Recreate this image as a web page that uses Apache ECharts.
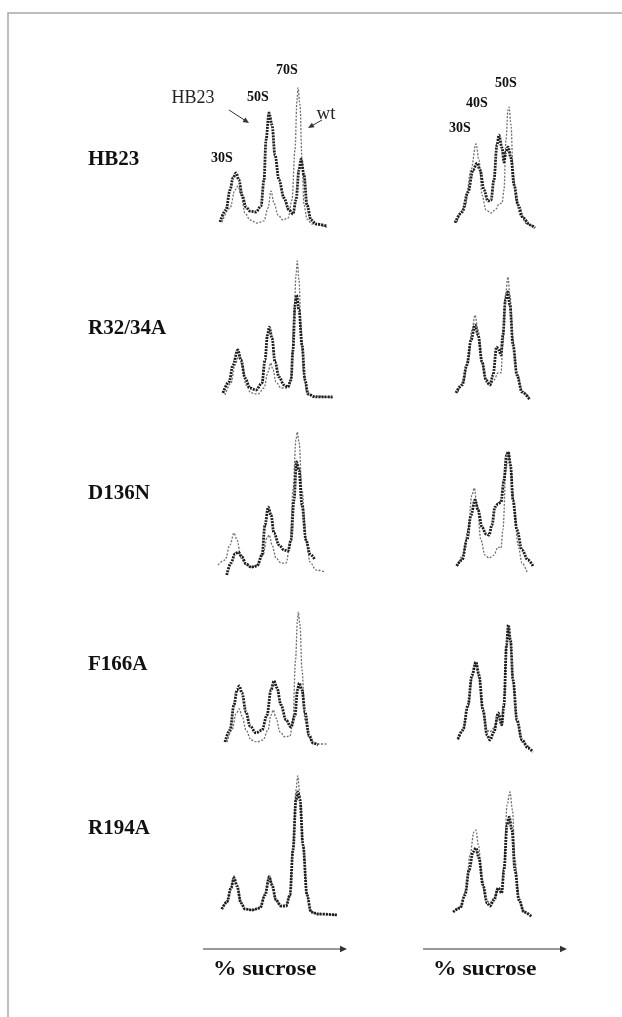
<!DOCTYPE html>
<html><head><meta charset="utf-8">
<script src="https://cdn.jsdelivr.net/npm/echarts@6/dist/echarts.min.js"></script>
<style>html,body{margin:0;padding:0;background:#fff}#c{width:622px;height:1017px}</style>
</head><body><div id="c"></div><script>
// Row labels (mutants) and axis title
const rowLabels = ['HB23', 'R32/34A', 'D136N', 'F166A', 'R194A'];
const axisTitle = '% sucrose';

// x = fraction (0-50), y = A260 (arbitrary units, 0-100)
// Row 1: HB23
const hb23LeftMut = [[2,3.75],[4.4,11.25],[6,23.75],[7.2,31.25],[8.4,34.4],[9.6,30],[10.8,20.6],[12.4,13.1],[14,10.6],[16.4,10],[18.4,13.75],[19.6,30],[20.4,55],[21.6,71.9],[22.8,64.4],[24,45.6],[25.6,30],[27.6,18.75],[29.6,11.25],[31.2,8.75],[32.4,17.5],[33.6,36.25],[34.4,43.1],[35.6,33.1],[36.8,14.4],[38.4,5],[40.4,2.5],[44.8,1.25]];
const hb23LeftWt = [[2.8,3.75],[6,12.5],[8,23.75],[9.2,26.25],[10.4,20.6],[12,9.4],[14,5],[16.8,3.1],[19.6,4.4],[21.2,12.5],[22.4,23.1],[23.6,15.6],[25.2,8.1],[27.2,5],[29.2,6.25],[30.8,17.5],[32,48.75],[32.8,80],[33.2,87.5],[34,76.9],[34.8,42.5],[35.6,14.4],[36.8,5.6],[38.8,2.5],[44.8,0.6]];
const hb23RightMut = [[2.8,3.3],[6.7,10],[10,22.5],[12.8,36.25],[15,40.6],[16.7,36.25],[18.9,23.75],[21.1,16.9],[22.8,17.5],[24.4,30],[26.1,51.9],[27.2,58.1],[28.9,50],[30,41.25],[31.1,47.5],[32.2,50.6],[33.9,43.75],[35.6,26.9],[37.8,14.4],[40.6,6.25],[44.4,1.9],[47.2,0]];
const hb23RightWt = [[3.9,3.75],[8.3,13.1],[11.7,36.25],[14.4,52.5],[16.1,42.5],[17.8,20.6],[20,11.25],[22.8,9.4],[25.6,11.9],[27.2,15],[28.9,15.6],[30,23.75],[31.1,55],[32.2,73.75],[32.8,75.6],[33.9,64.4],[35,36.25],[36.7,17.5],[38.9,8.1],[42.8,2.5],[47.2,0.6]];
// Row 2: R32/34A
const r32LeftMut = [[3.2,4.4],[5.6,11.25],[7.2,21.9],[9.1,31.25],[10.4,25],[12,13.75],[14,7.5],[16.4,6.25],[18.8,10.6],[20,25],[21,40.6],[21.7,45.6],[22.8,38.75],[24,23.75],[25.6,14.4],[27.6,9.4],[29.2,8.1],[30.4,12.5],[31.2,31.25],[32,59.4],[32.6,65.6],[33.6,56.25],[34.8,34.4],[36,12.5],[37.2,3.75],[40,1.9],[47.2,1.9]];
const r32LeftWt = [[4,3.1],[6.4,10.6],[8,21.9],[9.6,28.1],[10.8,21.9],[12.4,9.4],[14.4,4.4],[17.2,3.75],[19.6,7.5],[21.2,17.5],[22.3,23.1],[23.2,18.75],[24.4,11.25],[26.4,7.5],[28.8,7.5],[30.4,12.5],[31.6,50],[32.4,78.1],[32.9,86.9],[33.6,75],[34.4,43.75],[35.6,15.6],[36.8,5],[38.8,2.5],[47.2,1.25]];
const r32RightMut = [[3.3,4.4],[6.7,9.4],[9.4,21.9],[11.7,37.5],[13.9,46.9],[15.6,40.6],[17.8,23.75],[20,12.5],[22.2,9.4],[23.9,15.6],[25.9,33.1],[27.2,31.25],[28.3,28.1],[29.4,40.6],[30.8,62.5],[32.1,67.5],[33.3,59.4],[35,34.4],[37.2,15.6],[40,5],[44.4,0]];
const r32RightWt = [[4.4,5],[7.2,10.6],[10,25],[12.2,43.75],[13.9,53.1],[15.6,43.75],[17.8,23.75],[20,11.25],[22.2,8.75],[24.4,12.5],[26.7,16.9],[28.3,16.9],[29.4,34.4],[30.8,65.6],[32.2,76.9],[33.3,65.6],[35,37.5],[37.2,16.9],[40,5.6],[44.4,0.6]];
// Row 3: D136N
const d136LeftMut = [[4.7,0.6],[6.4,8.1],[8,13.75],[9.3,15],[10.8,11.9],[12.4,7.5],[14.4,5.6],[16.8,6.25],[18.8,13.1],[20,31.9],[21.3,43.1],[22.4,38.1],[23.6,26.9],[25.6,19.4],[27.6,16.25],[29.2,15.6],[30.4,22.5],[31.6,47.5],[32.6,71.25],[33.6,66.25],[34.8,44.4],[36.4,22.5],[38,13.75],[40,10]];
const d136LeftWt = [[1.2,6.9],[4,10],[6,19.4],[7.6,26.9],[8.8,22.5],[10.4,11.25],[12.4,6.9],[14.8,5.6],[17.2,6.9],[19.2,13.1],[20.8,23.75],[21.7,25.6],[22.8,19.4],[24.4,11.25],[26.4,8.1],[28.4,8.1],[30,19.4],[31.2,53.75],[32.4,85],[32.9,90],[33.6,83.75],[34.8,53.75],[36.4,22.5],[38,8.75],[40.4,3.75],[44,2.5]];
const d136RightMut = [[3.7,6.25],[6.7,10],[9.4,22.5],[11.7,38.1],[13.9,47.5],[15.6,41.25],[17.8,30.6],[20,26.25],[21.7,25.6],[23.3,31.9],[25,43.1],[26.7,45],[28.3,46.25],[30,60],[31.4,75.6],[32.4,77.5],[33.6,69.4],[35,47.5],[37.2,28.75],[40,16.25],[43.3,10],[46.1,6.25]];
const d136RightWt = [[4.4,6.9],[7.2,13.1],[10,28.75],[12.2,50.6],[13.5,55],[15,44.4],[17.2,22.5],[19.4,13.1],[21.7,11.25],[24.4,13.1],[26.7,18.1],[28.3,17.5],[29.4,28.75],[31.1,66.25],[32.4,77.5],[33.9,66.25],[35.6,41.25],[37.8,19.4],[40,8.1],[42.8,2.5]];
// Row 4: F166A
const f166LeftMut = [[4,3.75],[6,11.25],[7.6,26.9],[8.8,36.25],[9.7,38.75],[10.8,34.4],[12.4,22.5],[14,13.75],[16.4,9.4],[18.8,11.25],[20.8,20.6],[22.4,36.25],[23.6,41.9],[24.8,37.5],[26.4,26.9],[28.4,17.5],[30.4,13.1],[32,20.6],[33,36.25],[33.7,40.6],[34.8,36.25],[36,22.5],[37.6,8.1],[39.2,3.1],[41.2,1.9]];
const f166LeftWt = [[4.8,3.75],[6.8,11.25],[8.4,21.25],[9.7,24.4],[10.8,20],[12.4,11.25],[14.4,5],[16.8,3.75],[19.2,5],[21.2,11.25],[22.4,20.6],[23.3,23.75],[24.4,18.75],[26,10],[28,6.9],[30,7.5],[31.2,17.5],[32.2,55],[33,80],[33.3,85],[34,76.9],[34.8,48.75],[36,17.5],[37.6,6.25],[40,2.5],[45.2,2.5]];
const f166RightMut = [[4.4,5.6],[7.2,11.25],[10,26.9],[12.2,45.6],[14.4,53.75],[16.1,45.6],[18.3,23.75],[20.6,8.1],[22.2,5],[24.4,10],[26.8,21.9],[28.7,14.4],[30,26.9],[31.4,64.4],[32.4,76.9],[33.6,67.5],[35,42.5],[37.2,17.5],[40,5],[43.3,0],[46.1,-2.5]];
const f166RightWt = [[4.4,5],[7.2,10.6],[10,25],[12.2,43.75],[14.4,52.5],[16.1,43.75],[18.3,22.5],[20.6,11.25],[22.2,10],[24.4,12.5],[26.7,18.75],[28.6,16.25],[30,30],[31.4,64.4],[32.4,75],[33.6,66.25],[35,41.25],[37.2,16.25],[40,3.75],[44.4,0]];
// Row 5: R194A
const r194LeftMut = [[2.7,5.6],[4.8,10],[6.4,18.75],[7.6,25],[8.8,20],[10.4,9.4],[12,5.6],[14.8,5],[18,6.25],[20,14.4],[21.7,25.6],[22.8,20.6],[24.4,11.25],[26.4,7.5],[28.4,7.5],[30,14.4],[31.2,42.5],[32.4,73.75],[33.1,78.75],[34,73.75],[35.2,45.6],[36.8,14.4],[38.4,3.75],[41.2,2.5],[48.8,1.9]];
const r194LeftWt = [[2.8,5.6],[4.8,10.6],[6.4,19.4],[7.6,26.25],[8.8,20.6],[10.4,9.4],[12,5.6],[14.8,5],[18,6.25],[20,15],[21.7,26.9],[22.8,21.25],[24.4,11.25],[26.4,7.5],[28.4,7.5],[30,14.4],[31.2,45.6],[32.4,80],[33.1,88.75],[34,76.9],[35.2,45.6],[36.8,14.4],[38.4,3.75],[41.2,2.5],[48.8,1.9]];
const r194RightMut = [[1.7,3.75],[5.6,6.25],[8.3,14.4],[10.6,30],[12.8,41.25],[14.4,43.75],[16.1,37.5],[18.3,20.6],[20.6,9.4],[22.2,7.5],[24.4,11.25],[26.8,18.75],[28.7,15.6],[30,30],[31.7,58.1],[32.9,63.1],[34.4,55],[36.1,30],[38.3,11.25],[41.1,3.75],[45.6,0.6]];
const r194RightWt = [[2.2,3.75],[6.1,6.9],[8.9,17.5],[11.1,39.4],[13.3,53.75],[14.4,55],[15.8,45.6],[17.8,23.75],[20,11.25],[22.2,9.4],[24.4,12.5],[26.7,17.5],[28.6,16.25],[30,33.1],[31.7,70.6],[33.3,78.75],[34.7,67.5],[36.1,36.25],[38.3,12.5],[41.1,3.75],[45.6,0.6]];

const panels = [
  [[hb23LeftMut, hb23LeftWt], [hb23RightMut, hb23RightWt]],
  [[r32LeftMut, r32LeftWt], [r32RightMut, r32RightWt]],
  [[d136LeftMut, d136LeftWt], [d136RightMut, d136RightWt]],
  [[f166LeftMut, f166LeftWt], [f166RightMut, f166RightWt]],
  [[r194LeftMut, r194LeftWt], [r194RightMut, r194RightWt]]
];

// Layout
const rowBottoms = [228, 400, 576, 748, 918];
const colLeft = [215, 450], colWidth = [125, 90];
const labelY = [160, 329, 494, 665, 829];

const grids = [], xAxes = [], yAxes = [], series = [];
panels.forEach((row, r) => {
  row.forEach((pair, c) => {
    const gi = grids.length;
    grids.push({ left: colLeft[c], width: colWidth[c], top: rowBottoms[r] - 160, height: 176 });
    xAxes.push({ gridIndex: gi, type: 'value', min: 0, max: 50, show: false });
    yAxes.push({ gridIndex: gi, type: 'value', min: -10, max: 100, show: false });
    series.push({ type: 'line', xAxisIndex: gi, yAxisIndex: gi, data: pair[1], smooth: 0.35, smoothMonotone: 'x', symbol: 'none',
      lineStyle: { color: '#707070', width: 1.3, type: [2, 1.5] }, z: 2 });
    series.push({ type: 'line', xAxisIndex: gi, yAxisIndex: gi, data: pair[0], smooth: 0.35, smoothMonotone: 'x', symbol: 'none',
      lineStyle: { color: '#1e1e1e', width: 2.8, type: [2, 1] }, z: 3 });
  });
});

const serifB = (s) => 'bold ' + s + 'px "Liberation Serif", "Times New Roman", serif';
const serif = (s) => s + 'px "Liberation Serif", "Times New Roman", serif';
const graphic = [];
graphic.push({ type: 'rect', shape: { x: 8, y: 13, width: 800, height: 1200 }, style: { fill: 'none', stroke: '#a8a8a8', lineWidth: 1.5 }, silent: true });
rowLabels.forEach((t, i) => graphic.push({ type: 'text', x: 88, y: labelY[i], style: { text: t, font: serifB(21), fill: '#111', textVerticalAlign: 'middle' } }));
const peakLabels = [['30S', 222, 158], ['50S', 258, 97], ['70S', 287, 70], ['30S', 460, 128], ['40S', 477, 103], ['50S', 506, 83]];
peakLabels.forEach(p => graphic.push({ type: 'text', x: p[1], y: p[2], style: { text: p[0], font: serifB(14), fill: '#111', textAlign: 'center', textVerticalAlign: 'middle' } }));
graphic.push({ type: 'text', x: 193, y: 98, style: { text: 'HB23', font: serif(18), fill: '#222', textAlign: 'center', textVerticalAlign: 'middle' } });
graphic.push({ type: 'text', x: 326, y: 114, style: { text: 'wt', font: serif(19), fill: '#222', textAlign: 'center', textVerticalAlign: 'middle' } });
function arrow(x1, y1, x2, y2, head) {
  const a = Math.atan2(y2 - y1, x2 - x1), h = head, w = head * 0.45;
  graphic.push({ type: 'line', shape: { x1, y1, x2: x2 - Math.cos(a) * h * 0.6, y2: y2 - Math.sin(a) * h * 0.6 }, style: { stroke: '#333', lineWidth: 1 } });
  graphic.push({ type: 'polygon', shape: { points: [[x2, y2], [x2 - Math.cos(a) * h - Math.sin(a) * w, y2 - Math.sin(a) * h + Math.cos(a) * w], [x2 - Math.cos(a) * h + Math.sin(a) * w, y2 - Math.sin(a) * h - Math.cos(a) * w]] }, style: { fill: '#333' } });
}
arrow(229, 110, 249, 123, 6);
arrow(322, 120, 308, 128, 6);
arrow(203, 949, 347, 949, 7);
arrow(423, 949, 567, 949, 7);
graphic.push({ type: 'text', x: 213, y: 970, scaleX: 1.12, originX: 0, originY: 0, style: { text: axisTitle, font: serifB(21), fill: '#111', textVerticalAlign: 'middle' } });
graphic.push({ type: 'text', x: 433, y: 970, scaleX: 1.12, originX: 0, originY: 0, style: { text: axisTitle, font: serifB(21), fill: '#111', textVerticalAlign: 'middle' } });

const chart = echarts.init(document.getElementById('c'), null, { renderer: 'canvas' });
chart.setOption({ animation: false, backgroundColor: '#fff', grid: grids, xAxis: xAxes, yAxis: yAxes, series, graphic });
</script></body></html>
